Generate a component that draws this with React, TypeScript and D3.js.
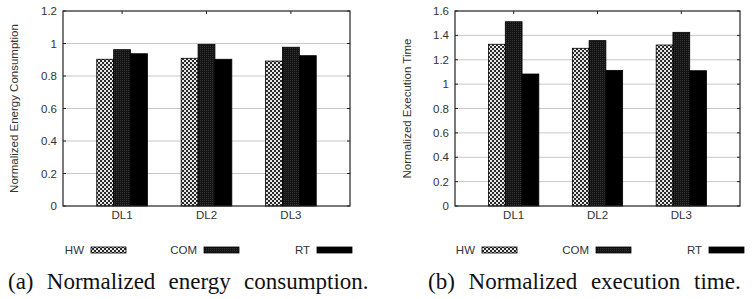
import React from 'react';
import * as d3 from 'd3';

const groups = ['DL1', 'DL2', 'DL3'];
const seriesNames = ['HW', 'COM', 'RT'];

// normalized energy consumption per deadline level
const energyHW = [0.903, 0.909, 0.892];
const energyCOM = [0.962, 0.995, 0.977];
const energyRT = [0.937, 0.903, 0.925];
const energyTicks = ['0', '0.2', '0.4', '0.6', '0.8', '1', '1.2'];

// normalized execution time per deadline level
const timeHW = [1.327, 1.294, 1.321];
const timeCOM = [1.512, 1.357, 1.425];
const timeRT = [1.083, 1.113, 1.11];
const timeTicks = ['0', '0.2', '0.4', '0.6', '0.8', '1', '1.2', '1.4', '1.6'];

const fills = ['url(#checker)', 'url(#darkdots)', '#000'];
const labelFont = '"Liberation Sans", Arial, Helvetica, sans-serif';
const captionFont = '"Liberation Serif", "Times New Roman", serif';
const fs = 11.5;

type PanelProps = {
  left: number;
  right: number;
  ymax: number;
  ticks: string[];
  values: number[][];
  title: string;
  titleX: number;
  legendX: number[];
};

const top = 11;
const bottom = 206;
const barW = 0.2;

function Panel({ left, right, ymax, ticks, values, title, titleX, legendX }: PanelProps) {
  const x = d3.scaleLinear().domain([-0.7, 2.7]).range([left, right]);
  const y = d3.scaleLinear().domain([0, ymax]).range([bottom, top]);
  const tickVals = ticks.map(Number);

  return (
    <g fontFamily={labelFont}>
      {/* grid lines */}
      {tickVals.slice(1, -1).map((t) => (
        <line key={'g' + t} x1={left} x2={right} y1={y(t)} y2={y(t)} stroke="#c8c8c8" strokeWidth={1} />
      ))}

      {/* bars */}
      {groups.map((grp, gi) =>
        seriesNames.map((s, si) => {
          const v = values[si][gi];
          const x0 = x(gi - 0.3 + si * barW);
          return (
            <rect
              key={grp + s}
              x={x0}
              y={y(v)}
              width={x(barW) - x(0)}
              height={y(0) - y(v)}
              fill={fills[si]}
              stroke="#000"
              strokeWidth={0.8}
            />
          );
        })
      )}

      {/* frame */}
      <rect x={left} y={top} width={right - left} height={bottom - top} fill="none" stroke="#222" strokeWidth={1.2} />

      {/* y ticks, mirrored on right */}
      {tickVals.map((t, i) => (
        <g key={'t' + t}>
          <line x1={left} x2={left + 3} y1={y(t)} y2={y(t)} stroke="#222" />
          <line x1={right - 3} x2={right} y1={y(t)} y2={y(t)} stroke="#222" />
          <text x={left - 6} y={y(t)} dy="0.35em" textAnchor="end" fontSize={fs} fill="#333">
            {ticks[i]}
          </text>
        </g>
      ))}

      {/* x ticks and labels */}
      {groups.map((grp, gi) => (
        <g key={'x' + grp}>
          <line x1={x(gi)} x2={x(gi)} y1={top} y2={top + 3} stroke="#222" />
          <text x={x(gi)} y={219} textAnchor="middle" fontSize={fs} fill="#333">
            {grp}
          </text>
        </g>
      ))}

      <text
        transform={`translate(${titleX},${(top + bottom) / 2}) rotate(-90)`}
        textAnchor="middle"
        dy="0.35em"
        fontSize={fs}
        fill="#333"
      >
        {title}
      </text>

      {/* legend */}
      {seriesNames.map((s, si) => (
        <g key={'l' + s}>
          <text x={legendX[si] - 7} y={250} dy="0.35em" textAnchor="end" fontSize={fs} fill="#333">
            {s}
          </text>
          <rect x={legendX[si]} y={247} width={35} height={6} fill={fills[si]} stroke="#000" strokeWidth={0.8} />
        </g>
      ))}
    </g>
  );
}

export default function App() {
  return (
    <div style={{ position: 'fixed', left: 0, top: 0 }}>
      <svg width={753} height={299} style={{ display: 'block', background: '#fff' }}>
        <defs>
          <pattern id="checker" width={4} height={4} patternUnits="userSpaceOnUse">
            <rect width={4} height={4} fill="#e6e6e6" />
            <rect width={2} height={2} fill="#2a2a2a" />
            <rect x={2} y={2} width={2} height={2} fill="#2a2a2a" />
          </pattern>
          <pattern id="darkdots" width={2} height={2} patternUnits="userSpaceOnUse">
            <rect width={2} height={2} fill="#141414" />
            <rect width={1} height={1} fill="#333" />
          </pattern>
        </defs>

        <Panel
          left={63}
          right={350}
          ymax={1.2}
          ticks={energyTicks}
          values={[energyHW, energyCOM, energyRT]}
          title="Normalized Energy Consumption"
          titleX={14}
          legendX={[91, 204, 317]}
        />
        <Panel
          left={455}
          right={740}
          ymax={1.6}
          ticks={timeTicks}
          values={[timeHW, timeCOM, timeRT]}
          title="Normalized Execution Time"
          titleX={407}
          legendX={[482, 596, 709]}
        />

        {/* justified sub-captions */}
        <text x={8} y={289} fontFamily={captionFont} fontSize={23} fill="#111" wordSpacing={7.5}>
          (a) Normalized energy consumption.
        </text>
        <text x={428} y={289} fontFamily={captionFont} fontSize={23} fill="#111" wordSpacing={8}>
          (b) Normalized execution time.
        </text>
      </svg>
    </div>
  );
}
